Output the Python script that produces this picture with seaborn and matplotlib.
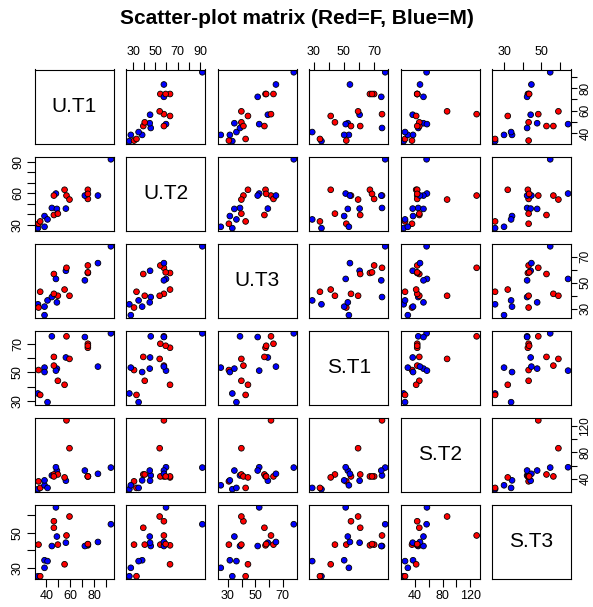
import matplotlib
matplotlib.use("Agg")
import matplotlib.pyplot as plt
import numpy as np
import pandas as pd
import seaborn as sns
from matplotlib.ticker import FixedLocator, FixedFormatter

# ---- data ----
sex = ["M", "M", "F", "F", "M", "M", "M", "M", "M", "M", "F",
       "F", "M", "F", "F", "F", "F", "F", "F", "M", "M", "F"]
UT1 = [93.9, 33.1, 33.6, 35.0, 38.6, 38.6, 41.1, 44.7, 48.9, 56.4, 46.4,
       49.7, 48.1, 46.4, 55.3, 56.9, 59.4, 74.7, 74.7, 72.2, 83.1, 74.7]
UT2 = [92.2, 26.7, 30.9, 33.1, 28.0, 38.2, 35.0, 45.9, 45.0, 45.3, 39.2,
       40.5, 59.6, 57.7, 63.2, 57.7, 53.9, 63.2, 54.5, 57.7, 57.7, 59.3]
UT3 = [78.1, 33.3, 30.8, 43.0, 24.9, 31.5, 36.3, 38.9, 34.8, 59.2, 56.7,
       39.9, 52.9, 41.4, 44.7, 61.5, 39.9, 57.5, 63.3, 51.8, 65.1, 58.0]
ST1 = [77.3, 35.2, 51.6, 34.2, 53.3, 50.2, 29.1, 75.2, 52.6, 60.4, 60.8,
       44.1, 51.2, 54.7, 41.3, 75.2, 59.4, 67.2, 70.0, 74.7, 54.0, 68.6]
ST2 = [57.0, 24.0, 36.0, 26.0, 30.0, 37.5, 26.0, 45.0, 52.5, 37.0, 46.5,
       46.5, 57.5, 43.5, 42.0, 129.0, 86.5, 43.5, 43.5, 52.5, 47.5, 43.5]
ST3 = [54.8, 25.2, 43.2, 25.2, 30.0, 34.3, 33.8, 42.4, 47.8, 44.3, 52.8,
       43.2, 64.4, 56.5, 32.0, 48.4, 59.2, 42.8, 43.2, 42.4, 44.7, 43.5]

variables = ["U.T1", "U.T2", "U.T3", "S.T1", "S.T2", "S.T3"]
tick_values = {
    "U.T1": [40, 50, 60, 70, 80, 90],
    "U.T2": [30, 40, 50, 60, 70, 80, 90],
    "U.T3": [30, 40, 50, 60, 70],
    "S.T1": [30, 40, 50, 60, 70],
    "S.T2": [40, 60, 80, 100, 120],
    "S.T3": [30, 40, 50, 60],
}
tick_labels_x = {
    "U.T1": ["40", "", "60", "", "80", ""],
    "U.T2": ["30", "", "50", "", "70", "", "90"],
    "U.T3": ["30", "", "50", "", "70"],
    "S.T1": ["30", "", "50", "", "70"],
    "S.T2": ["40", "", "80", "", "120"],
    "S.T3": ["30", "", "50", ""],
}
tick_labels_y = {
    "U.T1": ["40", "", "60", "", "80", ""],
    "U.T2": ["30", "", "", "60", "", "", "90"],
    "U.T3": ["30", "", "50", "", "70"],
    "S.T1": ["30", "", "50", "", "70"],
    "S.T2": ["40", "", "80", "", "120"],
    "S.T3": ["30", "", "50", ""],
}

df = pd.DataFrame({"Sex": sex, "U.T1": UT1, "U.T2": UT2, "U.T3": UT3,
                   "S.T1": ST1, "S.T2": ST2, "S.T3": ST3})

sns.set_style("white")
plt.rcParams["font.family"] = ["Liberation Sans", "DejaVu Sans"]
plt.rcParams["axes.edgecolor"] = "black"
plt.rcParams["axes.linewidth"] = 0.8
plt.rcParams["text.color"] = "black"

g = sns.PairGrid(df, vars=variables, hue="Sex", hue_order=["F", "M"],
                 palette={"F": "red", "M": "blue"}, despine=False,
                 height=1.0, aspect=1.0)
g.map_offdiag(sns.scatterplot, s=17, edgecolor="black", linewidth=0.6,
              legend=False)

fig = g.figure
fig.set_size_inches(5.93, 6.07)
fig.subplots_adjust(left=35 / 593, right=571 / 593, bottom=1 - 579 / 607,
                    top=1 - 69.5 / 607, wspace=0.16, hspace=0.17)

n = len(variables)
for j, var in enumerate(variables):
    lo, hi = df[var].min(), df[var].max()
    pad = 0.04 * (hi - lo)
    g.axes[0, j].set_xlim(lo - pad, hi + pad)
    g.axes[j, 0].set_ylim(lo - pad, hi + pad)
    g.axes[0, j].xaxis.set_major_locator(FixedLocator(tick_values[var]))
    g.axes[0, j].xaxis.set_major_formatter(FixedFormatter(tick_labels_x[var]))
    g.axes[j, 0].yaxis.set_major_locator(FixedLocator(tick_values[var]))
    g.axes[j, 0].yaxis.set_major_formatter(FixedFormatter(tick_labels_y[var]))

for i in range(n):
    for j in range(n):
        ax = g.axes[i, j]
        ax.set_xlabel("")
        ax.set_ylabel("")
        for sp in ax.spines.values():
            sp.set_visible(True)
            sp.set_color("black")
            sp.set_linewidth(0.8)
        ax.tick_params(bottom=False, top=False, left=False, right=False,
                       labelbottom=False, labeltop=False,
                       labelleft=False, labelright=False)
        ax.tick_params(direction="out", length=5.5, width=0.8, pad=2.5,
                       labelsize=9, colors="black")
        ax.tick_params(axis="y", labelrotation=90)
        if i == 0 and j % 2 == 1:
            ax.tick_params(top=True, labeltop=True)
        if i == n - 1 and j % 2 == 0:
            ax.tick_params(bottom=True, labelbottom=True)
        if j == 0 and i % 2 == 1:
            ax.tick_params(left=True, labelleft=True)
        if j == n - 1 and i % 2 == 0:
            ax.tick_params(axis="y", right=True, labelright=True,
                           length=4.5, pad=1.5, labelsize=8.5)
        if i == j:
            ax.text(0.5, 0.5, variables[i], transform=ax.transAxes,
                    ha="center", va="center", fontsize=15, color="black")

for ax in g.axes.flat:
    for lab in ax.get_yticklabels():
        lab.set_va("center")

fig.suptitle("Scatter-plot matrix (Red=F, Blue=M)", fontweight="bold",
             fontsize=15, y=1 - 18 / 607, va="center", color="black")

fig.savefig("out.png", dpi=100)
